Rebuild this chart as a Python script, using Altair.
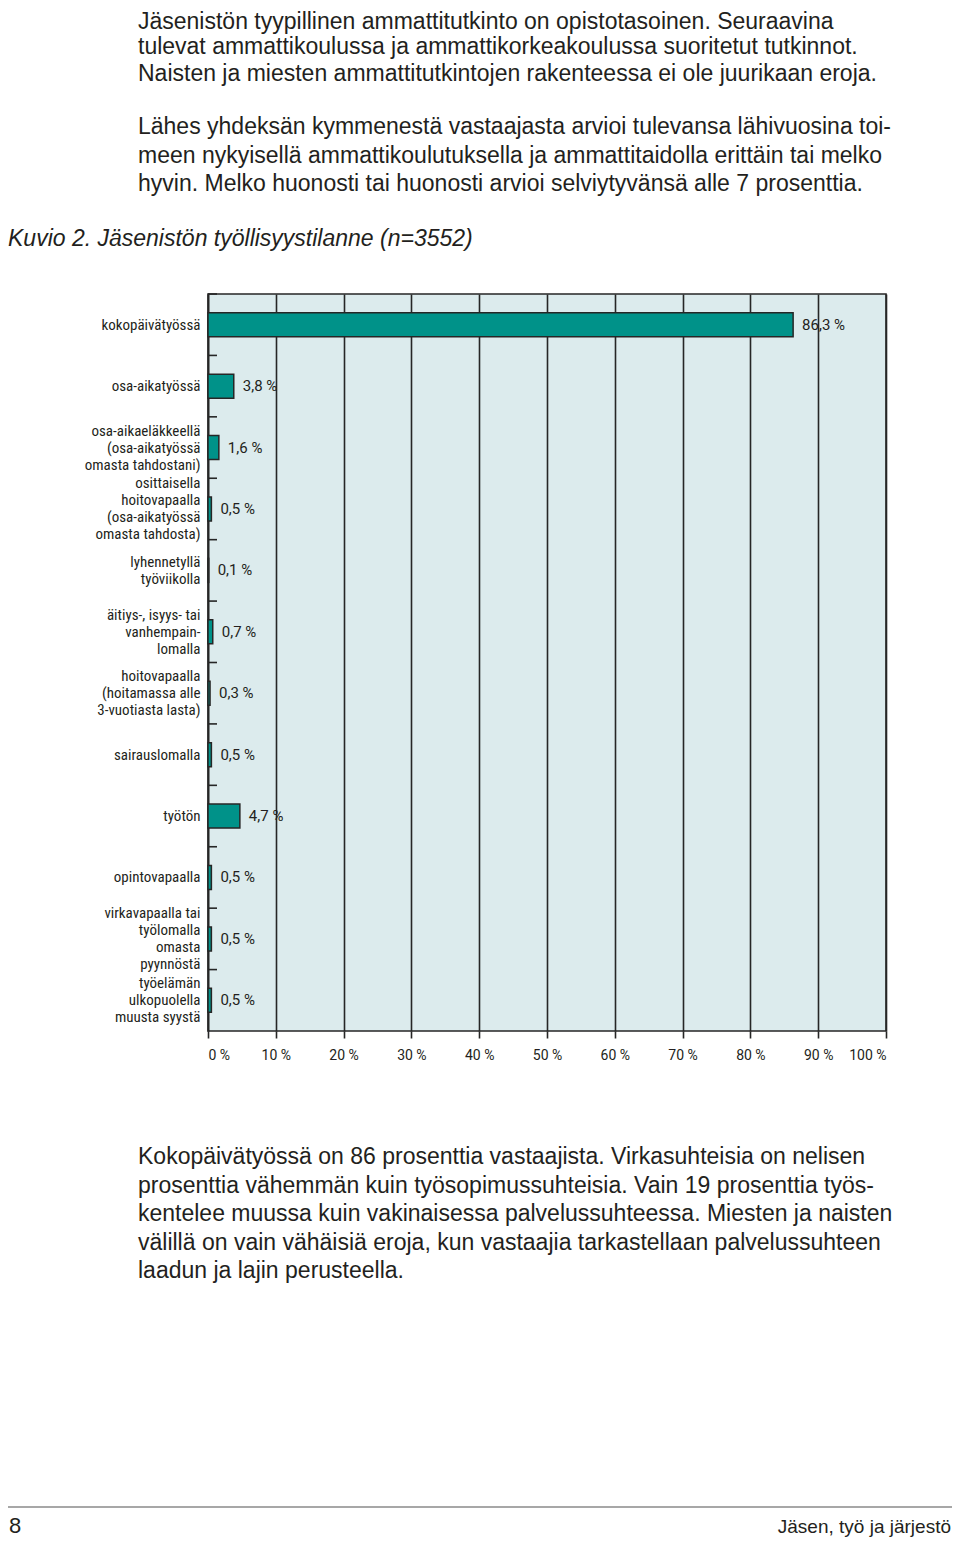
import altair as alt
import pandas as pd

# ---------------- data ----------------
categories = [
    "kokopäivätyössä",
    "osa-aikatyössä",
    "osa-aikaeläkkeellä|(osa-aikatyössä|omasta tahdostani)",
    "osittaisella|hoitovapaalla|(osa-aikatyössä|omasta tahdosta)",
    "lyhennetyllä|työviikolla",
    "äitiys-, isyys- tai|vanhempain-|lomalla",
    "hoitovapaalla|(hoitamassa alle|3-vuotiasta lasta)",
    "sairauslomalla",
    "työtön",
    "opintovapaalla",
    "virkavapaalla tai|työlomalla|omasta|pyynnöstä",
    "työelämän|ulkopuolella|muusta syystä",
]
values = [86.3, 3.8, 1.6, 0.5, 0.1, 0.7, 0.3, 0.5, 4.7, 0.5, 0.5, 0.5]
x_ticks = [0, 10, 20, 30, 40, 50, 60, 70, 80, 90, 100]

para1_first = "Jäsenistön tyypillinen ammattitutkinto on opistotasoinen. Seuraavina"
para1_rest = ["tulevat ammattikoulussa ja ammattikorkeakoulussa suoritetut tutkinnot.",
              "Naisten ja miesten ammattitutkintojen rakenteessa ei ole juurikaan eroja."]
para2 = ["Lähes yhdeksän kymmenestä vastaajasta arvioi tulevansa lähivuosina toi-",
         "meen nykyisellä ammattikoulutuksella ja ammattitaidolla erittäin tai melko",
         "hyvin. Melko huonosti tai huonosti arvioi selviytyvänsä alle 7 prosenttia."]
caption = "Kuvio 2.  Jäsenistön työllisyystilanne (n=3552)"
para3 = ["Kokopäivätyössä on 86 prosenttia vastaajista. Virkasuhteisia on nelisen",
         "prosenttia vähemmän kuin työsopimussuhteisia.  Vain 19 prosenttia työs-",
         "kentelee muussa kuin vakinaisessa palvelussuhteessa. Miesten ja naisten",
         "välillä on vain vähäisiä eroja, kun vastaajia tarkastellaan palvelussuhteen",
         "laadun ja lajin perusteella."]
page_number = "8"
footer_title = "Jäsen, työ ja järjestö"

df = pd.DataFrame({"cat": categories, "v": values})

# ---------------- styles ----------------
DARK = "#262626"
TEAL = "#009289"
BG = "#dcebed"
NARROW = "Roboto Condensed, Roboto, sans-serif"
BODY = "Liberation Sans, Arial, Helvetica, sans-serif"
TXT = "#231f20"
LH = 17

# plot area origin on the page
OX, OY = 208, 294
def px(x):
    return x - OX
def py(y):
    return y - OY

yscale = alt.Scale(paddingInner=0, paddingOuter=0)
yaxis = alt.Axis(labelExpr="split(datum.label, '|')", ticks=False,
                 domain=True, domainColor=DARK, domainWidth=1.6,
                 labelPadding=8, labelFont=NARROW, labelFontSize=15,
                 labelLineHeight=LH, labelColor=TXT, labelLimit=200,
                 labelOffset=alt.ExprRef(
                     expr=f"-(length(split(datum.label, '|')) - 1) * {LH / 2}"))

base = alt.Chart(df)

ticks = base.mark_rule(color=DARK, strokeWidth=1.6).encode(
    y=alt.Y("cat:N", sort=categories, bandPosition=0, scale=yscale, axis=yaxis,
            title=None),
    x=alt.value(0), x2=alt.value(9),
)

bars = base.mark_bar(size=24, color=TEAL, stroke=DARK, strokeWidth=1.5).encode(
    x=alt.X("v:Q", scale=alt.Scale(domain=[0, 100], nice=False), title=None,
            axis=alt.Axis(values=x_ticks, labelExpr="datum.value + ' %'",
                          grid=True, gridColor=DARK, gridWidth=1.6, gridOpacity=1,
                          ticks=True, tickColor=DARK, tickWidth=1.6, tickSize=7,
                          domain=False, labelPadding=10, labelFont="Roboto",
                          labelFontSize=14, labelColor=TXT)),
    y=alt.Y("cat:N", sort=categories, scale=yscale, axis=yaxis, title=None),
)

labels = base.transform_calculate(
    lab="replace(format(datum.v, '.1f'), '.', ',') + ' %'"
).mark_text(align="left", baseline="middle", dx=9, font="Roboto", fontSize=15,
            color=TXT).encode(
    x=alt.X("v:Q"),
    y=alt.Y("cat:N", sort=categories, scale=yscale, axis=yaxis, title=None),
    text="lab:N",
)

def textblock(lines, x, y, size=23, lh=28.6, style="normal", align="left", font=BODY):
    d = pd.DataFrame({"t": ["|".join(lines) if isinstance(lines, list) else lines]})
    return alt.Chart(d).mark_text(align=align, baseline="alphabetic", lineBreak="|",
                                  lineHeight=lh, fontSize=size, font=font,
                                  fontStyle=style, color=TXT).encode(
        text="t:N", x=alt.value(px(x)), y=alt.value(py(y)))

t0 = textblock(para1_first, 138, 29)
t1 = textblock(para1_rest, 138, 54, lh=26.5)
t2 = textblock(para2, 138, 134)
t3 = textblock(caption, 8, 246, size=23, style="italic")
t4 = textblock(para3, 138, 1164)
t5 = textblock(page_number, 9, 1533, size=22)
t6 = textblock(footer_title, 951, 1533, size=19, align="right")

footer_line = alt.Chart(pd.DataFrame({"a": [0]})).mark_rule(
    color="#8a8a8a", strokeWidth=1.5).encode(
    x=alt.value(px(8)), x2=alt.value(px(952)), y=alt.value(py(1507)))

chart = alt.layer(ticks, bars, labels, t0, t1, t2, t3, t4, t5, t6, footer_line).properties(
    width=678, height=737,
    autosize=alt.AutoSizeParams(type="none"),
    padding={"left": 200, "top": 286, "right": 66, "bottom": 507},
    background="white",
).configure_view(
    stroke=DARK, strokeWidth=1.6, fill=BG
)

chart.save("out.html", embed_options={"renderer": "svg", "actions": False})
